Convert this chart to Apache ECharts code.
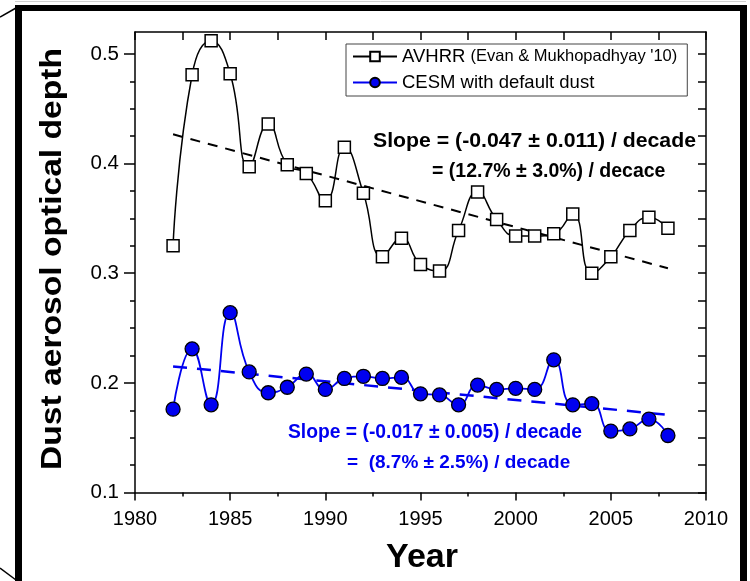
<!DOCTYPE html>
<html>
<head>
<meta charset="utf-8">
<script src="https://cdn.jsdelivr.net/npm/echarts@6/dist/echarts.min.js"></script>
<style>
  html, body { margin: 0; padding: 0; background: #fff; }
  #chart { width: 750px; height: 581px; }
</style>
</head>
<body>
<div id="chart"></div>
<script>
// Annual mean dust aerosol optical depth, 1982-2008
const years = [1982, 1983, 1984, 1985, 1986, 1987, 1988, 1989, 1990, 1991, 1992, 1993, 1994, 1995,
               1996, 1997, 1998, 1999, 2000, 2001, 2002, 2003, 2004, 2005, 2006, 2007, 2008];
const avhrr = [0.325, 0.481, 0.512, 0.482, 0.397, 0.436, 0.399, 0.391, 0.366, 0.415, 0.373, 0.315, 0.332, 0.308,
               0.302, 0.339, 0.374, 0.349, 0.334, 0.334, 0.336, 0.354, 0.300, 0.315, 0.339, 0.351, 0.341];
const cesm  = [0.176, 0.231, 0.180, 0.264, 0.210, 0.191, 0.196, 0.208, 0.194, 0.204, 0.206, 0.204, 0.205, 0.190,
               0.189, 0.180, 0.198, 0.194, 0.195, 0.194, 0.221, 0.180, 0.181, 0.156, 0.158, 0.167, 0.152];

// Linear trends: value at the first year and slope per decade
const trendYears = [1982, 2008];
const avhrrTrendStart = 0.4267, avhrrSlope = -0.047;
const cesmTrendStart = 0.215, cesmSlope = -0.017;

const yMajorTicks = [0.1, 0.2, 0.3, 0.4, 0.5];
const yMinorTicks = [0.1, 0.125, 0.15, 0.175, 0.2, 0.225, 0.25, 0.275, 0.3, 0.325, 0.35, 0.375, 0.4, 0.425, 0.45, 0.475, 0.5];

const slopeTextAvhrr = ['Slope = (-0.047 \u00b1 0.011) / decade', '= (12.7% \u00b1 3.0%) / decace'];
const slopeTextCesm = ['Slope = (-0.017 \u00b1 0.005) / decade', '=  (8.7% \u00b1 2.5%) / decade'];

const FONT = '"Liberation Sans", Arial, Helvetica, sans-serif';
const BLUE = '#0000f0';

const pairs = (xs, ys) => xs.map((x, i) => [x, ys[i]]);
const trendLine = (start, slope) => [
  [trendYears[0], start],
  [trendYears[1], start + slope * (trendYears[1] - trendYears[0]) / 10]
];

const chart = echarts.init(document.getElementById('chart'), null, { renderer: 'canvas' });

const option = {
  backgroundColor: '#fff',
  animation: false,
  grid: { left: 135, right: 44, top: 32, bottom: 88.5, show: false },
  xAxis: [
    {
      type: 'value', position: 'bottom', min: 1980, max: 2010, interval: 5,
      axisLine: { show: true, lineStyle: { color: '#000', width: 1.5 } },
      axisTick: { show: true, inside: false, length: 8, lineStyle: { color: '#000', width: 1.5 } },
      minorTick: { show: true, splitNumber: 2, length: 4, lineStyle: { color: '#000', width: 1.5 } },
      axisLabel: { show: true, margin: 17, color: '#000', fontSize: 20, fontFamily: FONT,
                   formatter: v => String(v) },
      splitLine: { show: false }
    },
    {
      type: 'value', position: 'top', min: 1980, max: 2010, interval: 2.5,
      axisLine: { show: true, lineStyle: { color: '#000', width: 1.5 } },
      axisTick: { show: true, inside: true, length: 8, lineStyle: { color: '#000', width: 1.5 } },
      axisLabel: { show: false },
      splitLine: { show: false }
    }
  ],
  yAxis: [
    {
      type: 'value', position: 'left', min: 0.1, max: 0.52,
      axisLine: { show: true, lineStyle: { color: '#000', width: 1.5 } },
      axisTick: { show: true, inside: false, length: 11, customValues: yMajorTicks, lineStyle: { color: '#000', width: 1.5 } },
      axisLabel: { show: true, margin: 16, customValues: yMajorTicks, color: '#000', fontSize: 20.5, fontFamily: FONT,
                   formatter: v => v.toFixed(1) },
      splitLine: { show: false }
    },
    {
      type: 'value', position: 'left', min: 0.1, max: 0.52,
      axisLine: { show: false },
      axisTick: { show: true, inside: false, length: 5, customValues: yMinorTicks, lineStyle: { color: '#000', width: 1.5 } },
      axisLabel: { show: false },
      splitLine: { show: false }
    },
    {
      type: 'value', position: 'right', min: 0.1, max: 0.52,
      axisLine: { show: true, lineStyle: { color: '#000', width: 1.5 } },
      axisTick: { show: true, inside: true, length: 8, customValues: yMinorTicks, lineStyle: { color: '#000', width: 1.5 } },
      axisLabel: { show: false },
      splitLine: { show: false }
    }
  ],
  legend: {
    data: ['AVHRR', 'CESM with default dust'],
    orient: 'vertical',
    left: 346, top: 44,
    padding: [3, 10, 4, 6],
    itemGap: 7,
    itemWidth: 44, itemHeight: 12,
    backgroundColor: '#fff',
    borderColor: '#444', borderWidth: 1, borderRadius: 0,
    textStyle: {
      color: '#000', fontFamily: FONT, fontSize: 18.5,
      rich: {
        a: { fontSize: 18.5, fontFamily: FONT, color: '#000' },
        b: { fontSize: 16.5, fontFamily: FONT, color: '#000' }
      }
    },
    formatter: name => name === 'AVHRR'
      ? '{a|AVHRR} {b|(Evan & Mukhopadhyay \'10)}'
      : '{a|' + name + '}'
  },
  series: [
    {
      name: 'AVHRR-trend', type: 'line', xAxisIndex: 0, yAxisIndex: 0,
      data: trendLine(avhrrTrendStart, avhrrSlope),
      symbol: 'none', silent: true, z: 1,
      lineStyle: { color: '#000', width: 2, type: [10, 8] }
    },
    {
      name: 'CESM-trend', type: 'line', xAxisIndex: 0, yAxisIndex: 0,
      data: trendLine(cesmTrendStart, cesmSlope),
      symbol: 'none', silent: true, z: 1,
      lineStyle: { color: BLUE, width: 2.5, type: [14, 10] }
    },
    {
      name: 'AVHRR', type: 'line', xAxisIndex: 0, yAxisIndex: 0,
      data: pairs(years, avhrr),
      smooth: 0.5, z: 3,
      symbol: 'rect', symbolSize: 12,
      lineStyle: { color: '#000', width: 1.5 },
      itemStyle: { color: '#fff', borderColor: '#000', borderWidth: 1.5 }
    },
    {
      name: 'CESM with default dust', type: 'line', xAxisIndex: 0, yAxisIndex: 0,
      data: pairs(years, cesm),
      smooth: 0.5, z: 3,
      symbol: 'circle', symbolSize: 14,
      lineStyle: { color: BLUE, width: 1.8 },
      itemStyle: { color: BLUE, borderColor: '#000', borderWidth: 1.3 }
    }
  ],
  graphic: [
    // outer frame
    { type: 'line', shape: { x1: 15, y1: 1.5, x2: 746, y2: 1.5 }, style: { stroke: '#d0d0d0', lineWidth: 1 }, silent: true },
    { type: 'line', shape: { x1: 15, y1: 8, x2: 747, y2: 8 }, style: { stroke: '#000', lineWidth: 6 }, silent: true },
    { type: 'line', shape: { x1: 18.5, y1: 5, x2: 18.5, y2: 581 }, style: { stroke: '#000', lineWidth: 7 }, silent: true },
    { type: 'line', shape: { x1: 743.5, y1: 5, x2: 743.5, y2: 581 }, style: { stroke: '#000', lineWidth: 7 }, silent: true },
    { type: 'line', shape: { x1: 0, y1: 17, x2: 16, y2: 8 }, style: { stroke: '#000', lineWidth: 1.5 }, silent: true },
    { type: 'line', shape: { x1: 0, y1: 568, x2: 16, y2: 580 }, style: { stroke: '#000', lineWidth: 1.5 }, silent: true },
    // axis titles
    {
      type: 'text', x: 53, y: 259, rotation: Math.PI / 2, scaleX: 1.12,
      style: { text: 'Dust aerosol optical depth', align: 'center', verticalAlign: 'middle',
               font: 'bold 30px ' + FONT, fill: '#000' }
    },
    {
      type: 'text', x: 422, y: 558,
      style: { text: 'Year', align: 'center', verticalAlign: 'middle',
               font: 'bold 34px ' + FONT, fill: '#000' }
    },
    // trend annotations
    {
      type: 'text', x: 373, y: 142, scaleX: 1.09,
      style: { text: slopeTextAvhrr[0], align: 'left', verticalAlign: 'middle', font: 'bold 19.5px ' + FONT, fill: '#000' }
    },
    {
      type: 'text', x: 432, y: 172,
      style: { text: slopeTextAvhrr[1], align: 'left', verticalAlign: 'middle', font: 'bold 19.5px ' + FONT, fill: '#000' }
    },
    {
      type: 'text', x: 288, y: 433,
      style: { text: slopeTextCesm[0], align: 'left', verticalAlign: 'middle', font: 'bold 19.3px ' + FONT, fill: BLUE }
    },
    {
      type: 'text', x: 347, y: 463,
      style: { text: slopeTextCesm[1], align: 'left', verticalAlign: 'middle', font: 'bold 19px ' + FONT, fill: BLUE }
    }
  ]
};

chart.setOption(option);
</script>
</body>
</html>
